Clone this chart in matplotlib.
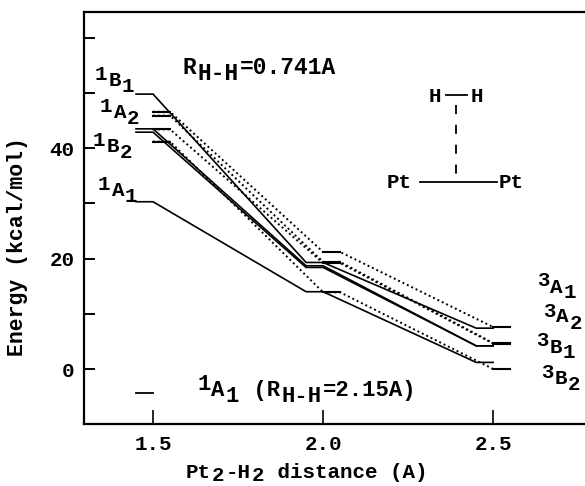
"""Pt2-H2 state energies vs distance, rebuilt from a scanned figure."""
import matplotlib
matplotlib.use("Agg")
import matplotlib.pyplot as plt
from matplotlib.lines import Line2D
import numpy as np

plt.rcParams.update({
    "font.family": "Liberation Mono",
    "font.weight": "bold",
    "font.size": 15,
})

W, H = 585, 486

# level positions (Pt2-H2 distance in A), one short bar per level
solid_x = [1.45, 1.50, 1.95, 2.00, 2.45, 2.50]
dotted_x = [1.50, 1.55, 2.00, 2.05, 2.50, 2.55]

# energies at the three distances (kcal/mol)
solid_1 = [49.8, 19.3, 7.4]
solid_2 = [43.5, 18.7, 4.2]
solid_3 = [42.9, 18.4, 4.2]
solid_4 = [30.3, 14.0, 1.2]
dotted_1 = [46.6, 21.2, 7.6]
dotted_2 = [45.9, 19.4, 4.7]
dotted_3 = [43.4, 19.2, 4.6]
dotted_4 = [41.2, 13.9, 0.0]

lone_x = [1.45, 1.50]
lone_y = [-4.4, -4.4]

x_ticks = [1.5, 2.0, 2.5]
x_labels = ["1.5", "2.0", "2.5"]
y_ticks = [0, 10, 20, 30, 40, 50, 60]
y_labels = ["0", "", "20", "", "40", "", ""]

fig = plt.figure(figsize=(W / 100, H / 100), dpi=100)
ax = fig.add_axes([84 / W, 1 - 424 / H, (W - 84) / W, 412 / H])
ax.set_xlim(1.297, 2.77)
ax.set_ylim(-9.96, 64.67)

for ys in [solid_1, solid_2, solid_3, solid_4]:
    ax.plot(solid_x, np.repeat(ys, 2), color="black", lw=1.2, solid_joinstyle="miter")
for ys in [dotted_1, dotted_2, dotted_3, dotted_4]:
    vals = np.repeat(ys, 2)
    ax.plot(dotted_x, vals, color="black", lw=1.4, ls=(0, (1, 1.5)))
    # the level bars themselves are solid
    for i in range(0, 6, 2):
        ax.plot(dotted_x[i:i + 2], vals[i:i + 2], color="black", lw=1.5)
ax.plot(lone_x, lone_y, color="black", lw=1.3)

ax.set_xticks(x_ticks, x_labels)
ax.set_yticks(y_ticks, y_labels)
ax.tick_params(axis="x", direction="in", length=10, width=1.2, pad=8)
ax.tick_params(axis="y", direction="in", length=8, width=1.4, pad=7)
for s in ["left", "bottom", "top"]:
    ax.spines[s].set_linewidth(1.6)
ax.spines["right"].set_visible(False)

fig.text(18 / W, 1 - 247 / H, "Energy (kcal/mol)", rotation=90, ha="center", va="center", fontsize=15.5)


def pieces(x, y, parts, size=15):
    """Write text pieces left to right from pixel x; each part is (string, pixel shift down)."""
    rend = fig.canvas.get_renderer()
    for s, dy in parts:
        t = fig.text(x / W, 1 - (y + dy) / H, s, ha="left", va="center", fontsize=size)
        x += t.get_window_extent(rend).width + 1


def state(x, y, spin, sym, n):
    pieces(x, y, [(spin, -6), (sym, 0), (n, 6)])


state(95, 80, "1", "B", "1")
state(100, 112, "1", "A", "2")
state(93, 146, "1", "B", "2")
state(98, 190, "1", "A", "1")
state(537, 287, "3", "A", "1")
state(543, 317, "3", "A", "2")
state(536, 347, "3", "B", "1")
state(541, 378, "3", "B", "2")

pieces(183, 68, [("R", 0), ("H-H", 6), ("=0.741A", 0)], size=16.5)
pieces(197, 390, [("1", -6), ("A", 0), ("1", 6), (" (R", 0), ("H-H", 6), ("=2.15A)", 0)], size=16)
pieces(186, 472, [("Pt", 0), ("2", 3), ("-H", 0), ("2", 3), (" distance (A)", 0)])

# Pt2-H2 geometry sketch
for s, px, py in [("H", 435, 96), ("H", 477, 96), ("Pt", 399, 182), ("Pt", 511, 182)]:
    fig.text(px / W, 1 - py / H, s, ha="center", va="center")
sketch = [
    ([446, 467], [95, 95], "-"),
    ([420, 497], [182, 182], "-"),
    ([456, 456], [105, 177], (0, (5, 6))),
]
for xs, ys, ls in sketch:
    fig.add_artist(Line2D(np.array(xs) / W, 1 - np.array(ys) / H, color="black", lw=1.3, ls=ls))

fig.savefig("out.png", dpi=100)
